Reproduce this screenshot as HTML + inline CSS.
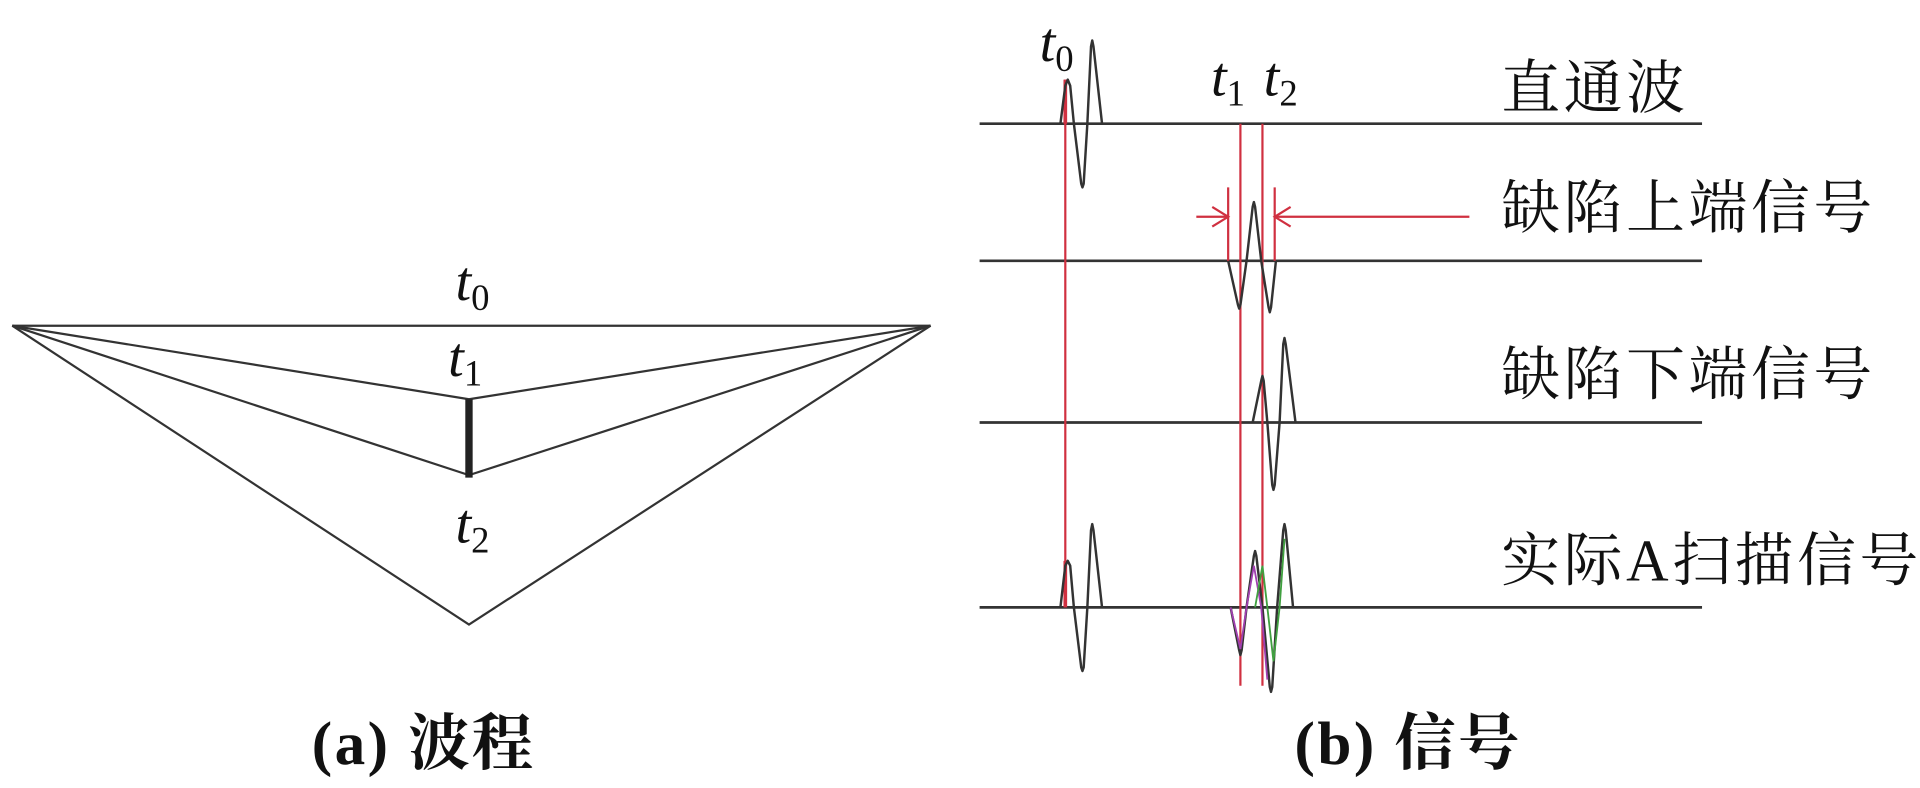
<!DOCTYPE html>
<html><head><meta charset="utf-8"><style>
html,body{margin:0;padding:0;background:#fff;}
svg{display:block}
.t{font-family:"Liberation Serif",serif;font-style:italic;font-size:46px;fill:#111}
.s{font-family:"Liberation Serif",serif;font-size:30px;fill:#111}
.cn{font-family:"Liberation Serif","Noto Serif CJK SC",serif;font-size:48px;fill:#111;letter-spacing:3px}
.cap{font-family:"Liberation Serif","Noto Serif CJK SC",serif;font-size:50px;font-weight:bold;fill:#111;letter-spacing:2px}
</style></head><body>
<svg width="1920" height="788" viewBox="0 0 1568 643.5" xmlns="http://www.w3.org/2000/svg">
<g stroke="#333" stroke-width="1.8" fill="none">
<line x1="10" y1="266" x2="760" y2="266"/>
<polyline points="10,266 383,326 760,266"/>
<polyline points="10,266 383,388 760,266"/>
<polyline points="10,266 383,510 760,266"/>
</g>
<line x1="383" y1="326" x2="383" y2="390" stroke="#222" stroke-width="6"/>
<text class="t" x="372" y="245">t<tspan class="s" font-style="normal" dy="8">0</tspan></text>
<text class="t" x="366" y="307">t<tspan class="s" font-style="normal" dy="8">1</tspan></text>
<text class="t" x="372" y="443">t<tspan class="s" font-style="normal" dy="8">2</tspan></text>
<text class="cap" x="346" y="624" text-anchor="middle">(a) 波程</text>

<g stroke="#333" stroke-width="2.2" fill="none">
<line x1="800" y1="101" x2="1390" y2="101"/>
<line x1="800" y1="213" x2="1390" y2="213"/>
<line x1="800" y1="345" x2="1390" y2="345"/>
<line x1="800" y1="496" x2="1390" y2="496"/>
</g>
<g stroke="#d03040" stroke-width="1.8" fill="none">
<line x1="870" y1="65" x2="870" y2="496"/>
<line x1="1013" y1="101" x2="1013" y2="560"/>
<line x1="1031" y1="101" x2="1031" y2="560"/>
<line x1="1003" y1="153" x2="1003" y2="213"/>
<line x1="1041" y1="153" x2="1041" y2="213"/>
<line x1="977" y1="177" x2="1003" y2="177"/>
<polyline points="990,169 1003,177 990,185"/>
<line x1="1041" y1="177" x2="1200" y2="177"/>
<polyline points="1054,169 1041,177 1054,185"/>
</g>
<line x1="870" y1="458" x2="870" y2="496" stroke="#d03040" stroke-width="3"/>
<line x1="870" y1="65" x2="870" y2="101" stroke="#d03040" stroke-width="3"/>
<g stroke="#333" stroke-width="2" fill="none" stroke-linejoin="round">
<polyline points="866,101 870,70 872,65 874,70 877,101 883,150 884,153 885,150 888,101 891,38 892,33 893,38 900,101"/>
<polyline points="1003,213 1011,249 1012,252 1013,249 1018,213 1023,169 1024,165 1025,169 1030,213 1036,251 1037,255 1038,251 1042,213"/>
<polyline points="1023,345 1030,311 1031,307 1032,311 1035,345 1039,396 1040,400 1041,396 1045,345 1048,281 1049,276 1050,281 1058,345"/>
<polyline points="866,496 870,462 872,458 874,462 877,496 883,545 884,548 885,545 888,496 891,433 892,428 893,433 900,496"/>
<polyline points="1005,496 1012,531 1013,535 1014,531 1018,496 1024,454 1025,450 1026,454 1031,496 1037,561 1038,565 1039,561 1043,496 1048,433 1049,428 1050,433 1056,496"/>
</g>
<polyline points="1005,496 1013,530 1018,496 1024,462 1030,496 1035,555" stroke="#a040b0" stroke-width="1.5" fill="none"/>
<polyline points="1025,496 1031,462 1035,496 1040,540 1045,496 1049,440" stroke="#40a040" stroke-width="1.5" fill="none"/>
<text class="t" x="849" y="50">t<tspan class="s" font-style="normal" dy="8">0</tspan></text>
<text class="t" x="989" y="78">t<tspan class="s" font-style="normal" dy="8">1</tspan></text>
<text class="t" x="1032" y="78">t<tspan class="s" font-style="normal" dy="8">2</tspan></text>
<text class="cn" x="1226" y="88">直通波</text>
<text class="cn" x="1226" y="186">缺陷上端信号</text>
<text class="cn" x="1226" y="322">缺陷下端信号</text>
<text class="cn" x="1226" y="474">实际A扫描信号</text>
<text class="cap" x="1150" y="624" text-anchor="middle">(b) 信号</text>
</svg>
</body></html>
